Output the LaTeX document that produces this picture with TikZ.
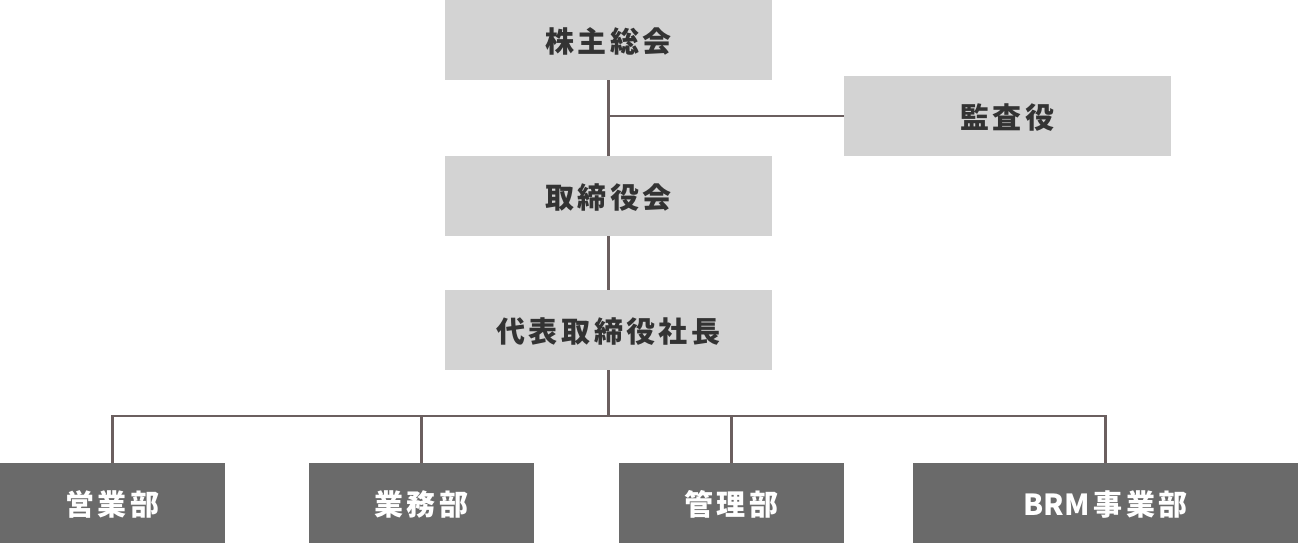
\documentclass[tikz,border=0pt]{standalone}
\usepackage{fontspec}
\newfontfamily\jp{Noto Sans CJK JP}
\definecolor{lbox}{HTML}{D3D3D3}
\definecolor{dbox}{HTML}{6A6A6A}
\definecolor{lnc}{HTML}{6B5F5F}
\definecolor{txt}{HTML}{333333}
\newcommand{\ls}{\kern3.5pt}
\begin{document}
\begin{tikzpicture}[x=1pt,y=-1pt,
  basebox/.style={inner sep=0pt, minimum height=80pt, text height=26pt, text depth=1pt, font=\jp\bfseries\fontsize{29}{29}\selectfont},
  lightbox/.style={basebox, fill=lbox, text=txt, minimum width=327pt},
  darkbox/.style={basebox, fill=dbox, text=white, minimum width=225pt},
  conn/.style={draw=lnc, line width=2.5pt}]
\useasboundingbox (0,0) rectangle (1298,543);
\coordinate (bus) at (0,416);
\node[lightbox] (gm) at (608.5,40) {株\ls 主\ls 総\ls 会};
\node[lightbox] (aud) at (1007.5,116) {監\ls 査\ls 役};
\node[lightbox] (bd) at (608.5,196) {取\ls 締\ls 役\ls 会};
\node[lightbox] (ceo) at (608.5,330) {代\ls 表\ls 取\ls 締\ls 役\ls 社\ls 長};
\node[darkbox] (d1) at (112.5,503) {営\ls 業\ls 部};
\node[darkbox] (d2) at (421.5,503) {業\ls 務\ls 部};
\node[darkbox] (d3) at (731.5,503) {管\ls 理\ls 部};
\node[darkbox, minimum width=385pt] (d4) at (1105.5,503) {B\kern0.5pt R\kern0.5pt M\ls 事\ls 業\ls 部};
\draw[conn] (gm.south) -- (bd.north);
\draw[conn] (gm.south |- aud.west) -- (aud.west);
\draw[conn] (bd.south) -- (ceo.north);
\draw[conn] (ceo.south) -- (ceo.south |- bus);
\draw[conn] (d1.north) |- (d4.north |- bus) -- (d4.north);
\draw[conn] (d2.north) -- (d2.north |- bus);
\draw[conn] (d3.north) -- (d3.north |- bus);
\end{tikzpicture}
\end{document}
